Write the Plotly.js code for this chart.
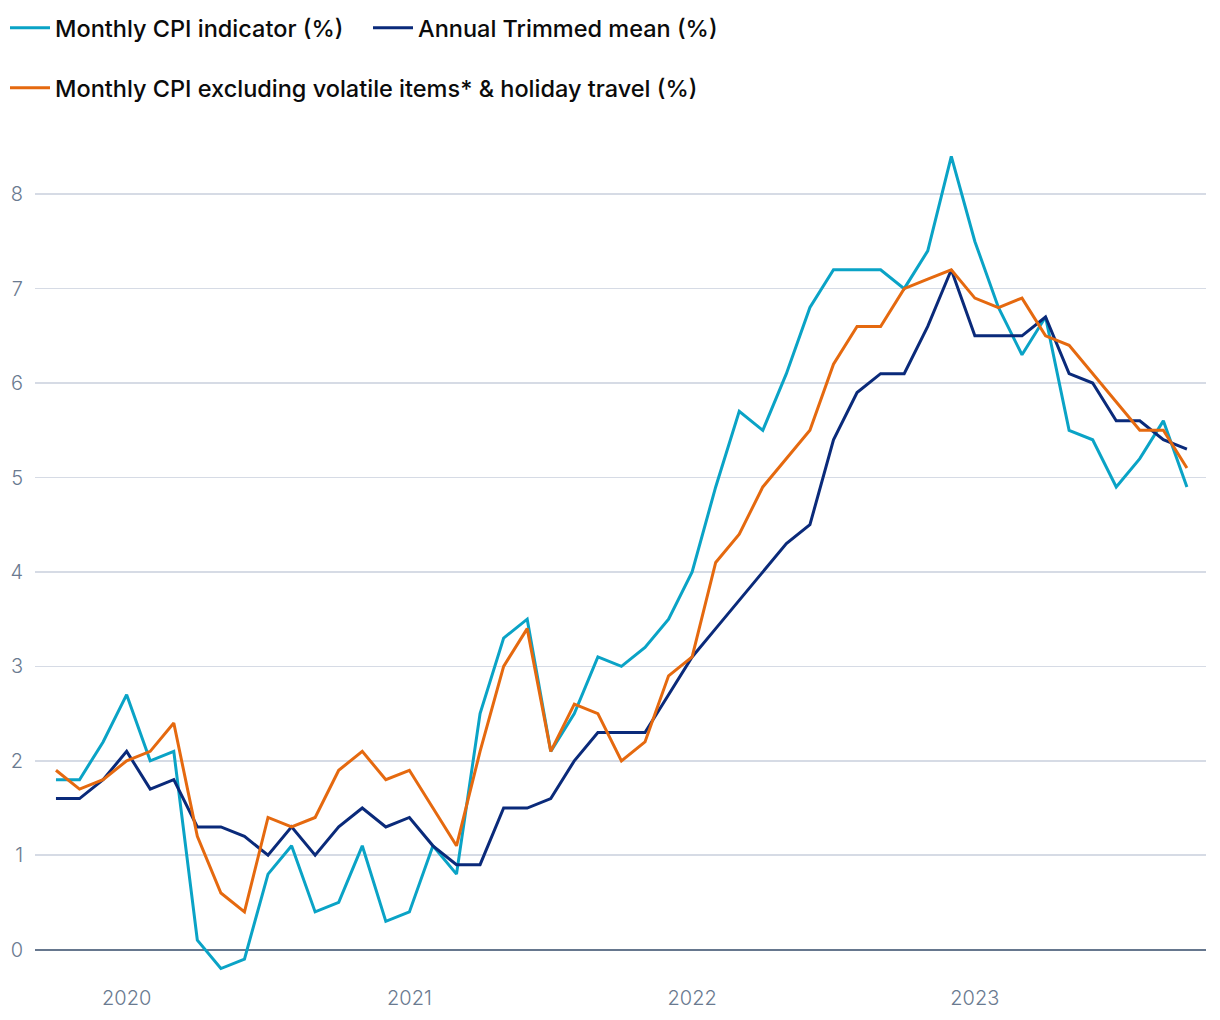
<!DOCTYPE html>
<html>
<head>
<meta charset="utf-8">
<script src="https://cdn.plot.ly/plotly-3.0.1.min.js"></script>
<style>
html,body{margin:0;padding:0;background:#fff;}
#chart{width:1220px;height:1020px;}
</style>
</head>
<body>
<div id="chart"></div>
<script>
const months = [
 '2019-10','2019-11','2019-12',
 '2020-01','2020-02','2020-03','2020-04','2020-05','2020-06','2020-07','2020-08','2020-09','2020-10','2020-11','2020-12',
 '2021-01','2021-02','2021-03','2021-04','2021-05','2021-06','2021-07','2021-08','2021-09','2021-10','2021-11','2021-12',
 '2022-01','2022-02','2022-03','2022-04','2022-05','2022-06','2022-07','2022-08','2022-09','2022-10','2022-11','2022-12',
 '2023-01','2023-02','2023-03','2023-04','2023-05','2023-06','2023-07','2023-08','2023-09','2023-10'
];

const monthlyCPI = [
 1.8,1.8,2.2,
 2.7,2.0,2.1,0.1,-0.2,-0.1,0.8,1.1,0.4,0.5,1.1,0.3,
 0.4,1.1,0.8,2.5,3.3,3.5,2.1,2.5,3.1,3.0,3.2,3.5,
 4.0,4.9,5.7,5.5,6.1,6.8,7.2,7.2,7.2,7.0,7.4,8.4,
 7.5,6.8,6.3,6.7,5.5,5.4,4.9,5.2,5.6,4.9
];

const trimmedMean = [
 1.6,1.6,1.8,
 2.1,1.7,1.8,1.3,1.3,1.2,1.0,1.3,1.0,1.3,1.5,1.3,
 1.4,1.1,0.9,0.9,1.5,1.5,1.6,2.0,2.3,2.3,2.3,2.7,
 3.1,3.4,3.7,4.0,4.3,4.5,5.4,5.9,6.1,6.1,6.6,7.2,
 6.5,6.5,6.5,6.7,6.1,6.0,5.6,5.6,5.4,5.3
];

const exVolatile = [
 1.9,1.7,1.8,
 2.0,2.1,2.4,1.2,0.6,0.4,1.4,1.3,1.4,1.9,2.1,1.8,
 1.9,1.5,1.1,2.1,3.0,3.4,2.1,2.6,2.5,2.0,2.2,2.9,
 3.1,4.1,4.4,4.9,5.2,5.5,6.2,6.6,6.6,7.0,7.1,7.2,
 6.9,6.8,6.9,6.5,6.4,6.1,5.8,5.5,5.5,5.1
];

const yearTickVals = ['2020-01','2021-01','2022-01','2023-01'];
const yearTickText = ['2020','2021','2022','2023'];

const names = {
  cpi: 'Monthly CPI indicator (%)',
  tm: 'Annual Trimmed mean (%)',
  ex: 'Monthly CPI excluding volatile items* &amp; holiday travel (%)'
};

const colors = {cpi:'#0aa3c6', tm:'#0a2a7a', ex:'#e5690f'};

const traces = [
  {x: months, y: monthlyCPI, name: names.cpi, type:'scatter', mode:'lines',
   line:{color:colors.cpi, width:3}, legend:'legend'},
  {x: months, y: trimmedMean, name: names.tm, type:'scatter', mode:'lines',
   line:{color:colors.tm, width:3}, legend:'legend'},
  {x: months, y: exVolatile, name: names.ex, type:'scatter', mode:'lines',
   line:{color:colors.ex, width:3}, legend:'legend2'}
];

const legendFont = {family:'Inter, "Open Sans", sans-serif', size:23.5, color:'#0b0b0b', weight:500};
const tickFont = {family:'Inter, "Open Sans", sans-serif', size:20, color:'#6a7a90', weight:300};

const layout = {
  width:1220, height:1020,
  paper_bgcolor:'#ffffff', plot_bgcolor:'#ffffff',
  margin:{l:35, r:14, t:147, b:42},
  showlegend:true,
  legend:{
    orientation:'h', xref:'container', yref:'container',
    x:5/1220, y:1-6/1020, xanchor:'left', yanchor:'top',
    font:legendFont, entrywidth:308, itemwidth:40, traceorder:'normal',
    bgcolor:'rgba(0,0,0,0)', itemclick:false, itemdoubleclick:false
  },
  legend2:{
    orientation:'h', xref:'container', yref:'container',
    x:5/1220, y:1-66/1020, xanchor:'left', yanchor:'top',
    font:legendFont, itemwidth:40, bgcolor:'rgba(0,0,0,0)', itemclick:false, itemdoubleclick:false
  },
  xaxis:{
    type:'category',
    range:[-0.89, 48.81],
    tickmode:'array', tickvals:yearTickVals, ticktext:yearTickText,
    showgrid:false, zeroline:false, showline:false, ticks:'',
    tickfont:tickFont, ticklabelstandoff:6, fixedrange:true
  },
  yaxis:{
    range:[-0.3, 8.5],
    tickmode:'array', tickvals:[0,1,2,3,4,5,6,7,8],
    showgrid:true, gridcolor:'#d6dbe5', gridwidth:1.5,
    zeroline:true, zerolinecolor:'#66778e', zerolinewidth:2,
    showline:false, ticks:'', tickfont:tickFont, ticklabelstandoff:11,
    fixedrange:true
  }
};

Plotly.newPlot('chart', traces, layout, {displayModeBar:false, staticPlot:true});
</script>
</body>
</html>
